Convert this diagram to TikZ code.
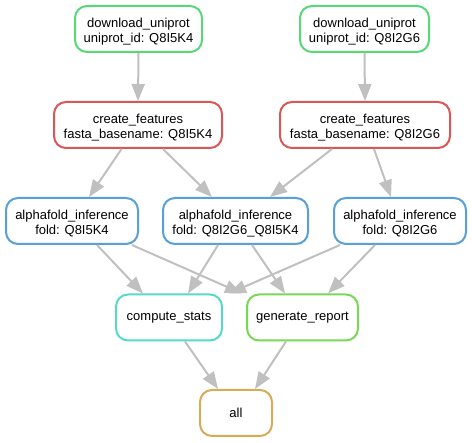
\documentclass[tikz,border=0pt]{standalone}
\usepackage{fontspec}
\setmainfont{Liberation Sans}
\usetikzlibrary{arrows.meta}
\definecolor{cgreen}{RGB}{87,217,120}
\definecolor{cred}{RGB}{217,87,87}
\definecolor{cblue}{RGB}{87,160,217}
\definecolor{ccyan}{RGB}{87,217,200}
\definecolor{clime}{RGB}{120,217,87}
\definecolor{corange}{RGB}{217,171,87}
\definecolor{cedge}{RGB}{192,192,192}
\newcommand{\tstrut}{\rule{0pt}{14.5pt}}
\tikzset{
  rule/.style={draw=#1, line width=2pt, rounded corners=12pt, align=center,
    minimum height=46pt, inner sep=0pt, fill=white,
    font=\fontsize{13}{14.7}\selectfont},
  edge/.style={draw=cedge, line width=2pt, -{Triangle[length=17pt,width=13pt]}},
}
\begin{document}
\begin{tikzpicture}[x=1pt,y=-1pt]
\useasboundingbox (0,0) rectangle (472,443);
\node[rule=cgreen, minimum width=127pt] (dl1) at (138.5,29) {\tstrut download\_uniprot\\uniprot\_id: Q8I5K4};
\node[rule=cgreen, minimum width=129pt] (dl2) at (364.5,29) {\tstrut download\_uniprot\\uniprot\_id: Q8I2G6};
\node[rule=cred, minimum width=168pt] (cf1) at (138,125) {\tstrut create\_features\\fasta\_basename: Q8I5K4};
\node[rule=cred, minimum width=170pt] (cf2) at (365,125) {\tstrut create\_features\\fasta\_basename: Q8I2G6};
\node[rule=cblue, minimum width=132pt] (a1) at (72,221) {\tstrut alphafold\_inference\\fold: Q8I5K4};
\node[rule=cblue, minimum width=145pt] (a2) at (235.5,221) {\tstrut alphafold\_inference\\fold: Q8I2G6\_Q8I5K4};
\node[rule=cblue, minimum width=132pt] (a3) at (400,221) {\tstrut alphafold\_inference\\fold: Q8I2G6};
\node[rule=ccyan, minimum width=106pt] (cs) at (169,317.5) {compute\_stats};
\node[rule=clime, minimum width=111pt] (gr) at (302.5,317.5) {generate\_report};
\node[rule=corange, minimum width=72pt] (all) at (236,413) {all};

\draw[edge] (dl1.south) -- (cf1.north);
\draw[edge] (dl2.south) -- (cf2.north);
\draw[edge] ([xshift=-16.5]cf1.south) -- ([xshift=17]a1.north);
\draw[edge] ([xshift=25]cf1.south) -- ([xshift=-23.5]a2.north);
\draw[edge] ([xshift=-33]cf2.south) -- ([xshift=34.5]a2.north);
\draw[edge] ([xshift=9]cf2.south) -- ([xshift=-9]a3.north);
\draw[edge] ([xshift=25]a1.south) -- ([xshift=-26]cs.north);
\draw[edge] ([xshift=60]a1.south) -- ([xshift=-60.5]gr.north);
\draw[edge] ([xshift=-17.5]a2.south) -- ([xshift=19]cs.north);
\draw[edge] ([xshift=16.5]a2.south) -- ([xshift=-17.5]gr.north);
\draw[edge] ([xshift=-60]a3.south) -- ([xshift=60]cs.north);
\draw[edge] ([xshift=-25]a3.south) -- ([xshift=25.5]gr.north);
\draw[edge] ([xshift=16]cs.south) -- ([xshift=-18]all.north);
\draw[edge] ([xshift=-16.5]gr.south) -- ([xshift=19]all.north);
\end{tikzpicture}
\end{document}
